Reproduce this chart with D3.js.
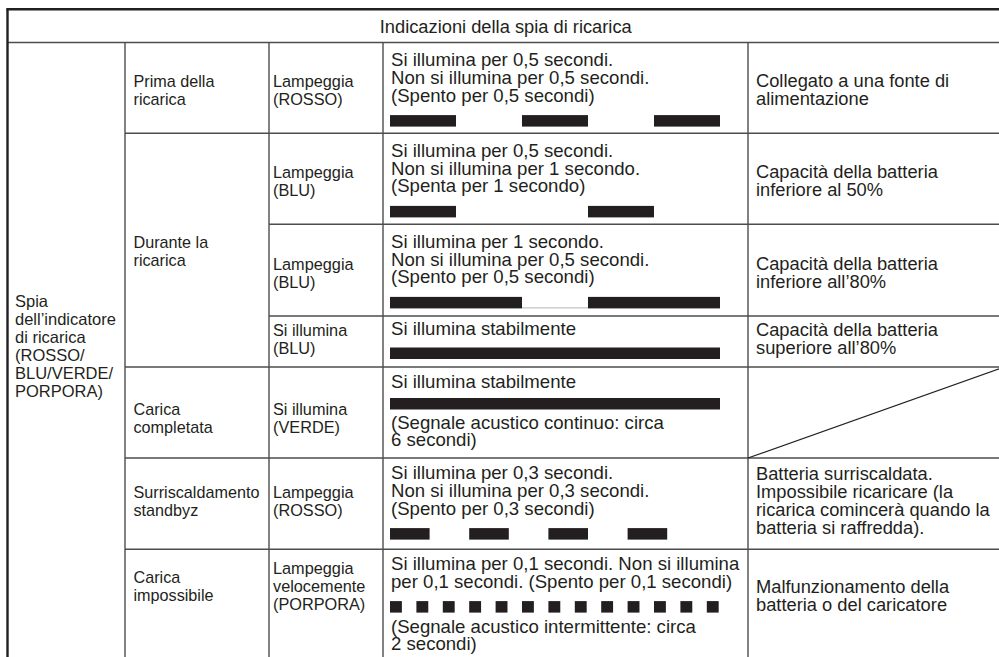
<!DOCTYPE html>
<html><head><meta charset="utf-8">
<script src="https://cdn.jsdelivr.net/npm/d3@7"></script>
<style>html,body{margin:0;padding:0;background:#fff;overflow:hidden}</style>
</head><body>
<svg id="chart" width="999" height="657"></svg>
<script>
// ---------- DATA ----------
const title = "Indicazioni della spia di ricarica";
const indicatorLabel = ["Spia", "dell’indicatore", "di ricarica", "(ROSSO/", "BLU/VERDE/", "PORPORA)"];
const phases = [["Prima della", "ricarica"], ["Durante la", "ricarica"], ["Carica", "completata"], ["Surriscaldamento", "standbyz"], ["Carica", "impossibile"]];
const phaseRowSpan = [1, 3, 1, 1, 1];
const modes = [
  ["Lampeggia", "(ROSSO)"],
  ["Lampeggia", "(BLU)"],
  ["Lampeggia", "(BLU)"],
  ["Si illumina", "(BLU)"],
  ["Si illumina", "(VERDE)"],
  ["Lampeggia", "(ROSSO)"],
  ["Lampeggia", "velocemente", "(PORPORA)"]
];
const descAbove = [
  ["Si illumina per 0,5 secondi.", "Non si illumina per 0,5 secondi.", "(Spento per 0,5 secondi)"],
  ["Si illumina per 0,5 secondi.", "Non si illumina per 1 secondo.", "(Spenta per 1 secondo)"],
  ["Si illumina per 1 secondo.", "Non si illumina per 0,5 secondi.", "(Spento per 0,5 secondi)"],
  ["Si illumina stabilmente"],
  ["Si illumina stabilmente"],
  ["Si illumina per 0,3 secondi.", "Non si illumina per 0,3 secondi.", "(Spento per 0,3 secondi)"],
  ["Si illumina per 0,1 secondi. Non si illumina", "per 0,1 secondi. (Spento per 0,1 secondi)"]
];
const descBelow = [
  [], [], [], [],
  ["(Segnale acustico continuo: circa", "6 secondi)"],
  [],
  ["(Segnale acustico intermittente: circa", "2 secondi)"]
];
const meanings = [
  ["Collegato a una fonte di", "alimentazione"],
  ["Capacità della batteria", "inferiore al 50%"],
  ["Capacità della batteria", "inferiore all’80%"],
  ["Capacità della batteria", "superiore all’80%"],
  null,
  ["Batteria surriscaldata.", "Impossibile ricaricare (la", "ricarica comincerà quando la", "batteria si raffredda)."],
  ["Malfunzionamento della", "batteria o del caricatore"]
];
// light-on intervals, in seconds
const onIntervals = [
  [[0, 0.5], [1, 1.5], [2, 2.5]],
  [[0, 0.5], [1.5, 2]],
  [[0, 1], [1.5, 2.5]],
  [[0, 2.5]],
  [[0, 2.5]],
  [[0, 0.3], [0.6, 0.9], [1.2, 1.5], [1.8, 2.1]],
  [[0, 0.09], [0.2, 0.29], [0.4, 0.49], [0.6, 0.69], [0.8, 0.89], [1.0, 1.09], [1.2, 1.29],
   [1.4, 1.49], [1.6, 1.69], [1.8, 1.89], [2.0, 2.09], [2.2, 2.29], [2.4, 2.49]]
];
// faint "off" trace visible in the reference (row 3 only)
const offTraces = [[], [], [[1, 1.5]], [], [], [], []];
const timeDomain = [0, 2.5];

// ---------- LAYOUT ----------
const svg = d3.select("#chart");
const INK = "#231f20", RULE = "#4d4d4d";
const FONT = "'Liberation Sans', Arial, Helvetica, sans-serif";
const colFS = [16.5, 16.2, 16.3, 18.6, 18.3];
const headFS = 18.3;
const tableL = 7.5, tableR = 1004, tableT = 9.3;
const colLines = [125, 269, 383, 748];
const rowEdges = [42.5, 133.3, 224.3, 316, 367, 458, 549.3, 615];
const rowNudge = [0, 0, 0, -5.5, 3, -5, 1];
const LH = 18, LH4 = 17.8, CAP = 8.5;
const colTextX = [15, 133.5, 273, 391, 756];
const descTop = [23.5, 23.5, 23.5, 19, 20.5, 21, 20.5];
const barGap = [13.5, 13.5, 13.5, 12.5, 10.5, 13.5, 13.5];
const barH = 11.5, belowGap = [19.5, 19.5, 19.5, 19.5, 19, 19.5, 20];

const x = d3.scaleLinear().domain(timeDomain).range([390, 720]);

function lines(g, arr, xPos, y0, lh, fs, anchor) {
  g.selectAll(null).data(arr).join("text")
    .attr("x", xPos).attr("y", (d, i) => y0 + i * lh)
    .attr("text-anchor", anchor || "start")
    .attr("font-family", FONT).attr("font-size", fs).attr("fill", INK)
    .text(d => d);
}
function centered(g, arr, xPos, top, bottom, nudge, fs) {
  const mid = (top + bottom) / 2;
  lines(g, arr, xPos, mid - (arr.length - 1) * LH / 2 + CAP + nudge, LH, fs);
}

const gLines = svg.append("g").attr("stroke", RULE).attr("stroke-width", 1.4).attr("fill", "none");
const gText = svg.append("g");
const gBars = svg.append("g").attr("fill", INK);

// header
lines(gText, [title], (tableL + tableR) / 2, 33.3, LH, headFS, "middle");

// outer border (top + left)
svg.append("line").attr("x1", tableL - 1.2).attr("x2", tableR).attr("y1", tableT).attr("y2", tableT)
  .attr("stroke", INK).attr("stroke-width", 2.4);
svg.append("line").attr("x1", tableL).attr("x2", tableL).attr("y1", tableT).attr("y2", 657)
  .attr("stroke", INK).attr("stroke-width", 2.4);

// header bottom
gLines.append("line").attr("x1", tableL).attr("x2", tableR).attr("y1", rowEdges[0]).attr("y2", rowEdges[0]);
// vertical column rules
colLines.forEach(cx => gLines.append("line").attr("x1", cx).attr("x2", cx).attr("y1", rowEdges[0]).attr("y2", 657));

// col 1 label
centered(gText, indicatorLabel, colTextX[0], rowEdges[0], 657, -6, colFS[0]);

// phases (col 2) with row spans
let r = 0;
phases.forEach((p, i) => {
  const top = rowEdges[r], bottom = rowEdges[r + phaseRowSpan[i]];
  const nudge = phaseRowSpan[i] > 1 ? -2 : rowNudge[r];
  centered(gText, p, colTextX[1], top, bottom, nudge, colFS[1]);
  r += phaseRowSpan[i];
  if (r < rowEdges.length - 1)
    gLines.append("line").attr("x1", colLines[0]).attr("x2", tableR).attr("y1", rowEdges[r]).attr("y2", rowEdges[r]);
});
// inner row lines inside spanned phase
[2, 3].forEach(k => gLines.append("line").attr("x1", colLines[1]).attr("x2", tableR)
  .attr("y1", rowEdges[k]).attr("y2", rowEdges[k]));

modes.forEach((m, i) => {
  const top = rowEdges[i], bottom = rowEdges[i + 1];
  centered(gText, m, colTextX[2], top, bottom, rowNudge[i], colFS[2]);

  // description + pattern
  const y0 = top + descTop[i];
  lines(gText, descAbove[i], colTextX[3], y0, LH4, colFS[3]);
  const barTop = y0 + (descAbove[i].length - 1) * LH4 + barGap[i];
  gBars.selectAll(null).data(onIntervals[i]).join("rect")
    .attr("x", d => x(d[0])).attr("width", d => x(d[1]) - x(d[0]))
    .attr("y", barTop).attr("height", barH);
  svg.selectAll(null).data(offTraces[i]).join("line")
    .attr("x1", d => x(d[0])).attr("x2", d => x(d[1]))
    .attr("y1", barTop + barH - 0.5).attr("y2", barTop + barH - 0.5)
    .attr("stroke", "#b5b5b5").attr("stroke-width", 1);
  if (descBelow[i].length)
    lines(gText, descBelow[i], colTextX[3], barTop + barH + belowGap[i], LH4, colFS[3]);

  // meaning
  if (meanings[i]) {
    centered(gText, meanings[i], colTextX[4], top, bottom, rowNudge[i] + (i === 6 ? 10 : 0), colFS[4]);
  } else {
    svg.append("line").attr("x1", colLines[3]).attr("y1", bottom).attr("x2", tableR).attr("y2", top)
      .attr("stroke", INK).attr("stroke-width", 1.2);
  }
});
</script>
</body></html>
